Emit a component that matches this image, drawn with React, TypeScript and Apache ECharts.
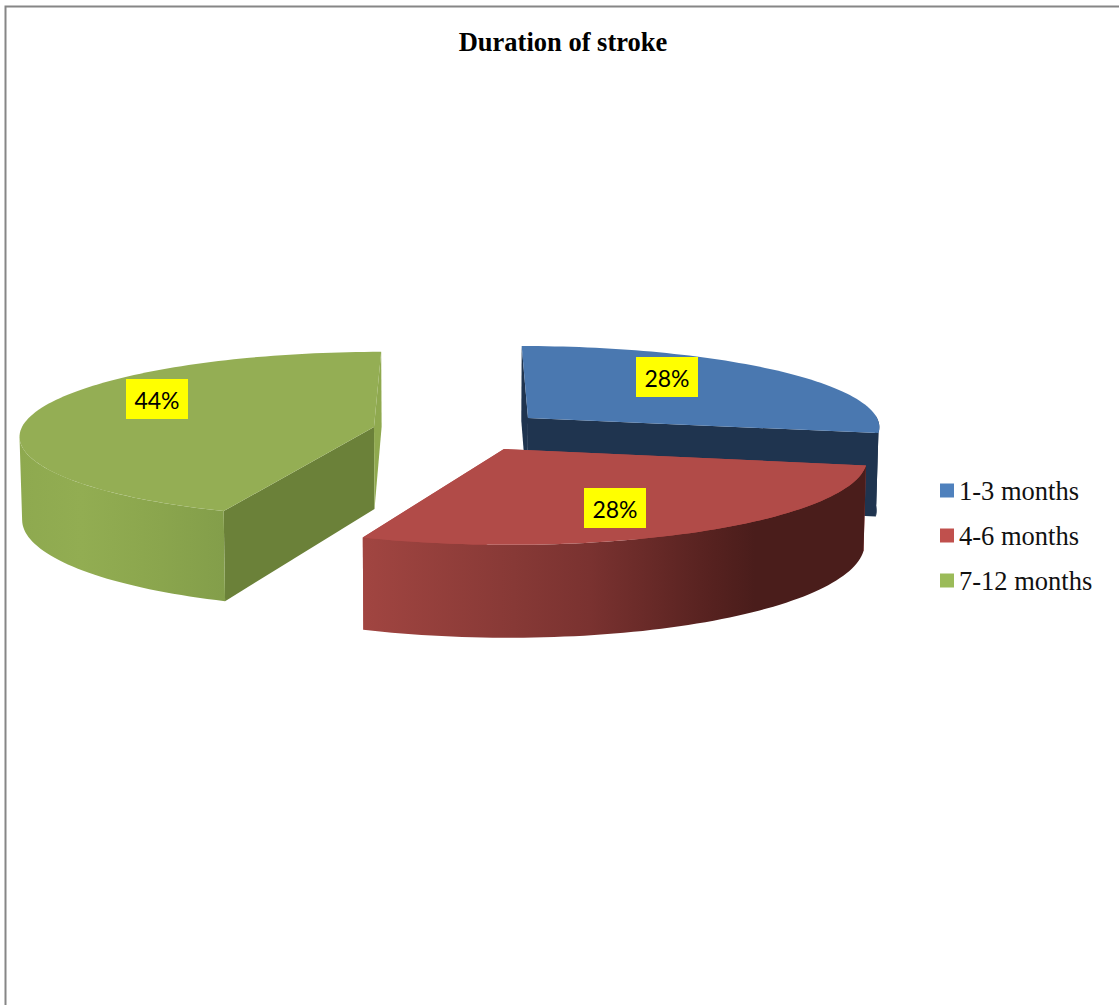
import React, { useEffect, useRef } from "react";
import * as echarts from "echarts";

const categories = ["1-3 months", "4-6 months", "7-12 months"];
const shares = [28, 28, 44];
const titleText = "Duration of stroke";

// Layout of the exploded perspective pie, in chart pixels.
const apexX = [528, 504, 374];
const apexY = [418, 449, 427];
const radii = [349, 361, 352];
const tilts = [0.226, 0.24, 0.234];
const wallDepths = [82, 84, 82];
const labelCentreX = [667, 615, 157];
const labelCentreY = [377, 508, 399];
const vanishX = 456;
const perspective = 0.096;
const lowerEdgeScale = 0.994;
const leftmostRimAngle = 263;

const topColours = ["#4a78b0", "#b14b48", "#94ae54"];
const legendColours = ["#4f81bd", "#c0504d", "#9bbb59"];
const startWallColours = ["#1f344f", "#b14b48", "#6b8139"];
const endWallColours = ["#1f344f", "#b14b48", "#8fa94f"];

const rimGradients: [number, string][][] = [
  [[0, "#1f344f"], [1, "#1f344f"]],
  [[0, "#a14541"], [0.3, "#873936"], [0.45, "#7a3230"], [0.7, "#55211f"], [0.78, "#4a1d1b"], [1, "#4a1d1b"]],
  [[0, "#8ea94f"], [0.3, "#92ad52"], [0.6, "#8ca74e"], [1, "#839e4a"]],
];

const total = shares.reduce((a, b) => a + b, 0);
const rad = (deg: number) => (deg * Math.PI) / 180;

// Projects a point on a slice: deg is clockwise from 12 o'clock, r is 0..1 of the radius.
function project(i: number, deg: number, r: number, drop: boolean): number[] {
  const sx = Math.sin(rad(deg)) * r;
  const sy = Math.cos(rad(deg)) * r;
  const s = 1 / (1 + perspective * sy);
  const x = vanishX + (apexX[i] - vanishX + radii[i] * sx) * s;
  const y = apexY[i] - radii[i] * tilts[i] * sy * s;
  if (!drop) return [x, y];
  return [vanishX + (x - vanishX) * lowerEdgeScale, y + wallDepths[i] * s];
}

function arcPoints(i: number, a: number, b: number, drop: boolean): number[][] {
  const steps = Math.max(2, Math.ceil(Math.abs(b - a) / 1.5));
  const pts: number[][] = [];
  for (let k = 0; k <= steps; k++) pts.push(project(i, a + ((b - a) * k) / steps, 1, drop));
  return pts;
}

function renderSlice(params: any, api: any) {
  const i = params.seriesIndex;
  const before = shares.slice(0, i).reduce((a, b) => a + b, 0);
  const start = (before / total) * 360;
  const end = start + (api.value(0) / total) * 360;
  const children: any[] = [];
  const poly = (points: number[][], fill: any) =>
    children.push({ type: "polygon", shape: { points }, style: { fill } });

  const apex = project(i, 0, 0, false);
  const apexLow = project(i, 0, 0, true);

  // Straight cut faces, furthest first.
  poly([apex, project(i, start, 1, false), project(i, start, 1, true), apexLow], startWallColours[i]);
  poly([apex, project(i, end, 1, false), project(i, end, 1, true), apexLow], endWallColours[i]);

  // Curved outer face, from 3 o'clock round to the leftmost point of the rim.
  const a = Math.max(start, 88);
  const b = Math.min(end, leftmostRimAngle);
  if (b > a) {
    const upper = arcPoints(i, a, b, false);
    const lower = arcPoints(i, a, b, true).reverse();
    poly(
      upper.concat(lower),
      new echarts.graphic.LinearGradient(
        0, 0, 1, 0,
        rimGradients[i].map(([offset, color]) => ({ offset, color })),
        false
      )
    );
  }

  // Top face.
  poly([apex].concat(arcPoints(i, start, end, false)), topColours[i]);

  // Value label on its yellow plate.
  children.push({
    type: "rect",
    shape: { x: labelCentreX[i] - 31, y: labelCentreY[i] - 20, width: 62, height: 40 },
    style: { fill: "#ffff00" },
  });
  children.push({
    type: "text",
    style: {
      text: `${api.value(0)}%`,
      x: labelCentreX[i],
      y: labelCentreY[i] + 1,
      align: "center",
      verticalAlign: "middle",
      fontFamily: "Lato",
      fontSize: 23,
      fill: "#000000",
    },
  });
  return { type: "group", children };
}

export default function App() {
  const ref = useRef<HTMLDivElement>(null);
  useEffect(() => {
    const chart = echarts.init(ref.current!, undefined, { renderer: "svg" });
    chart.setOption({
      animation: false,
      backgroundColor: "#ffffff",
      title: {
        text: titleText,
        left: 558,
        top: 23,
        textAlign: "center",
        textStyle: { fontFamily: "Liberation Serif", fontWeight: "bold", fontSize: 26.5, color: "#000000" },
      },
      legend: {
        orient: "vertical",
        left: 935,
        top: 472,
        itemWidth: 14,
        itemHeight: 14,
        itemGap: 18,
        icon: "rect",
        selectedMode: false,
        data: categories,
        textStyle: { fontFamily: "Liberation Serif", fontSize: 26.5, color: "#111111" },
      },
      graphic: [
        {
          type: "rect",
          silent: true,
          shape: { x: 5.5, y: 6.5, width: 1300, height: 1300 },
          style: { fill: "none", stroke: "#868686", lineWidth: 2 },
        },
      ],
      series: categories.map((name, i) => ({
        type: "custom",
        name,
        coordinateSystem: "none",
        itemStyle: { color: legendColours[i] },
        renderItem: renderSlice,
        data: [[shares[i]]],
      })),
    });
    return () => chart.dispose();
  }, []);
  return <div ref={ref} style={{ position: "fixed", left: 0, top: 0, width: 1119, height: 1005 }} />;
}
